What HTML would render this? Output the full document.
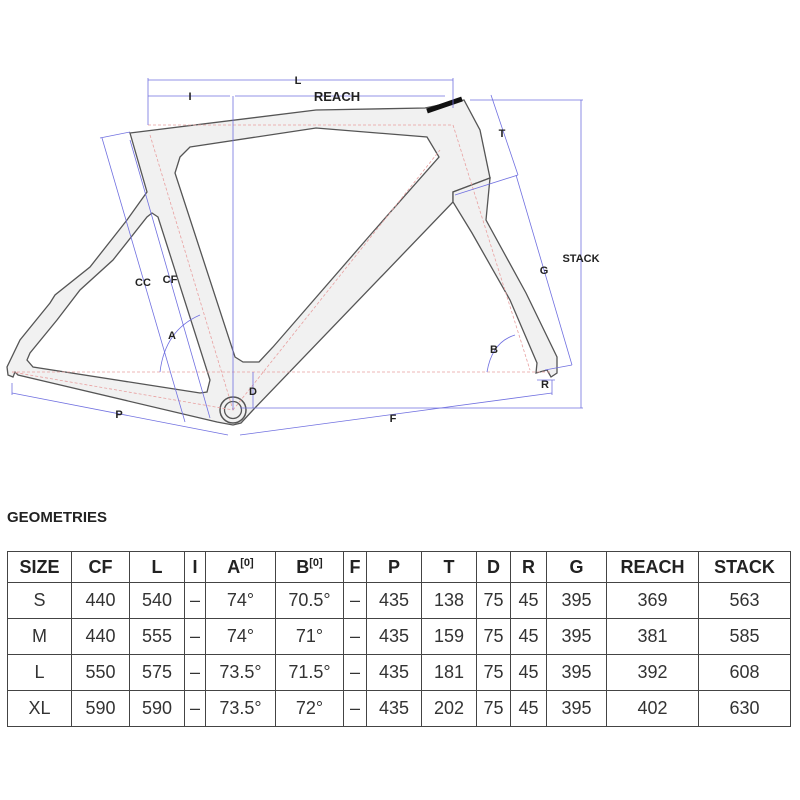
<!DOCTYPE html>
<html><head><meta charset="utf-8"><style>
body{margin:0;width:800px;height:800px;background:#fff;overflow:hidden;position:relative;font-family:"Liberation Sans Narrow","Liberation Sans",sans-serif;}
svg{position:absolute;left:0;top:0}
.g{position:absolute;left:7px;top:509px;font:bold 15px "Liberation Sans",sans-serif;color:#222}
table{position:absolute;left:7px;top:551px;border-collapse:collapse;font-size:18px;color:#333}
td{border:1.5px solid #444;text-align:center;padding:0;height:35px}
tr:first-child td{font-weight:bold;height:30px;color:#222}
sup{font-size:11px}
</style></head><body>
<svg width="800" height="500" viewBox="0 0 800 500" font-family="Liberation Sans,sans-serif" font-weight="bold" font-size="11" fill="#222">
<g fill="#f1f1f1" stroke="#555" stroke-width="1.3" fill-rule="evenodd">
<path d="M130,133 L316,110 L425,108 L464,100 L480,130 L490,178 L453,192 L453,202 L253,410 L241,423 L233,425 L217,422 L18,375 L15,372 L13,377 L8,375 L7,367 L20,340 L50,303 L55,295 L90,267 L127,220 L147,192 Z
M190,147 L316,128 L427,137 L439,157 L372,233 L273,347 L259,362 L243,362 L235,357 L175,173 L180,157 Z
M152,213 L158,217 L210,380 L207,392 L200,393 L33,367 L27,360 L30,353 L57,320 L80,290 L113,260 L147,217 Z"/>
<path d="M453,192 L490,178 L486,220 L526,293 L557,357 L557,373 L551,377 L547,370 L536,373 L537,363 L510,300 L472,233 L453,202 Z"/>
</g>
<line x1="427" y1="111" x2="462" y2="99" stroke="#111" stroke-width="5"/>
<circle cx="233" cy="410" r="13" fill="#f1f1f1" stroke="#555" stroke-width="1.5"/>
<circle cx="233" cy="410" r="8.5" fill="#f1f1f1" stroke="#555" stroke-width="1.3"/>
<g stroke="#e8a0a0" stroke-width="0.8" stroke-dasharray="3,2" fill="none">
<path d="M148,125 L453,125 L530,370"/>
<path d="M12,372 L550,372"/>
<path d="M150,135 L233,410 L12,372"/>
<path d="M233,410 L440,150"/>
</g>
<g stroke="#7070e0" stroke-width="0.8" fill="none">
<path d="M148,80 L453,80 M148,96 L230,96 M235,96 L445,96 M148,78 L148,125 M233,96 L233,410 M453,78 L453,108"/>
<path d="M470,100 L583,100 M581,100 L581,408 M240,408 L583,408"/>
<path d="M491,95 L518,175 M516,175 L572,365 M455,195 L518,175 M545,370 L572,365"/>
<path d="M102,138 L185,422 M130,140 L210,418 M100,138 L130,132"/>
<path d="M12,393 L228,435 M240,435 L552,393 M12,383 L12,395 M552,380 L552,395"/>
<path d="M253,372 L253,408"/>
<path d="M160,372 Q165,330 200,315 M487,372 Q492,342 515,335"/>
<path d="M537,380 L555,380"/>
</g>
<text x="298" y="84" text-anchor="middle">L</text>
<text x="190" y="100" text-anchor="middle">I</text>
<text x="337" y="101" text-anchor="middle" font-size="13">REACH</text>
<text x="502" y="137" text-anchor="middle">T</text>
<text x="544" y="274" text-anchor="middle">G</text>
<text x="581" y="262" text-anchor="middle">STACK</text>
<text x="143" y="286" text-anchor="middle">CC</text>
<text x="170" y="283" text-anchor="middle">CF</text>
<text x="172" y="339" text-anchor="middle">A</text>
<text x="494" y="353" text-anchor="middle">B</text>
<text x="253" y="395" text-anchor="middle">D</text>
<text x="545" y="388" text-anchor="middle">R</text>
<text x="119" y="418" text-anchor="middle">P</text>
<text x="393" y="422" text-anchor="middle">F</text>
</svg>
<div class="g">GEOMETRIES</div>
<table>
<colgroup><col style="width:64px"><col style="width:58px"><col style="width:55px"><col style="width:21px"><col style="width:70px"><col style="width:68px"><col style="width:23px"><col style="width:55px"><col style="width:55px"><col style="width:34px"><col style="width:36px"><col style="width:60px"><col style="width:92px"><col style="width:92px"></colgroup>
<tr><td>SIZE</td><td>CF</td><td>L</td><td>I</td><td>A<sup>[0]</sup></td><td>B<sup>[0]</sup></td><td>F</td><td>P</td><td>T</td><td>D</td><td>R</td><td>G</td><td>REACH</td><td>STACK</td></tr>
<tr><td>S</td><td>440</td><td>540</td><td>–</td><td>74°</td><td>70.5°</td><td>–</td><td>435</td><td>138</td><td>75</td><td>45</td><td>395</td><td>369</td><td>563</td></tr>
<tr><td>M</td><td>440</td><td>555</td><td>–</td><td>74°</td><td>71°</td><td>–</td><td>435</td><td>159</td><td>75</td><td>45</td><td>395</td><td>381</td><td>585</td></tr>
<tr><td>L</td><td>550</td><td>575</td><td>–</td><td>73.5°</td><td>71.5°</td><td>–</td><td>435</td><td>181</td><td>75</td><td>45</td><td>395</td><td>392</td><td>608</td></tr>
<tr><td>XL</td><td>590</td><td>590</td><td>–</td><td>73.5°</td><td>72°</td><td>–</td><td>435</td><td>202</td><td>75</td><td>45</td><td>395</td><td>402</td><td>630</td></tr>
</table>
</body></html>
